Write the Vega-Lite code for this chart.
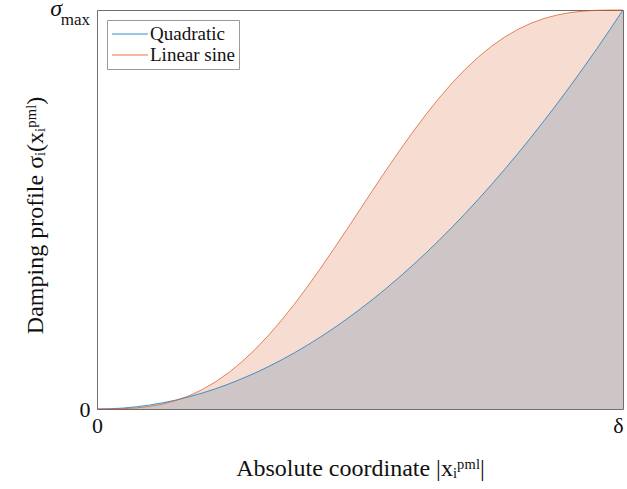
{
  "$schema": "https://vega.github.io/schema/vega-lite/v6.json",
  "width": 526,
  "height": 399,
  "autosize": {"type": "none"},
  "padding": {"left": 97, "top": 10, "right": 4, "bottom": 80},
  "config": {
    "font": "Liberation Serif",
    "view": {"stroke": "#6e6e6e", "strokeWidth": 1},
    "axis": {"grid": false, "ticks": false, "domain": false, "labelFont": "Liberation Serif", "titleFont": "Liberation Serif", "labelColor": "#111", "titleColor": "#111", "titleFontWeight": "normal"}
  },
  "datasets": {
    "curves": [
      {"x": 0, "Quadratic": 0, "Linear sine": 0},
      {"x": 0.025, "Quadratic": 0.000625, "Linear sine": 0.000102},
      {"x": 0.05, "Quadratic": 0.0025, "Linear sine": 0.000819},
      {"x": 0.075, "Quadratic": 0.005625, "Linear sine": 0.002745},
      {"x": 0.1, "Quadratic": 0.01, "Linear sine": 0.006451},
      {"x": 0.125, "Quadratic": 0.015625, "Linear sine": 0.01246},
      {"x": 0.15, "Quadratic": 0.0225, "Linear sine": 0.021241},
      {"x": 0.175, "Quadratic": 0.030625, "Linear sine": 0.033192},
      {"x": 0.2, "Quadratic": 0.04, "Linear sine": 0.048635},
      {"x": 0.225, "Quadratic": 0.050625, "Linear sine": 0.067804},
      {"x": 0.25, "Quadratic": 0.0625, "Linear sine": 0.090845},
      {"x": 0.275, "Quadratic": 0.075625, "Linear sine": 0.117804},
      {"x": 0.3, "Quadratic": 0.09, "Linear sine": 0.148635},
      {"x": 0.325, "Quadratic": 0.105625, "Linear sine": 0.183192},
      {"x": 0.35, "Quadratic": 0.1225, "Linear sine": 0.221241},
      {"x": 0.375, "Quadratic": 0.140625, "Linear sine": 0.26246},
      {"x": 0.4, "Quadratic": 0.16, "Linear sine": 0.306451},
      {"x": 0.425, "Quadratic": 0.180625, "Linear sine": 0.352745},
      {"x": 0.45, "Quadratic": 0.2025, "Linear sine": 0.400819},
      {"x": 0.475, "Quadratic": 0.225625, "Linear sine": 0.450102},
      {"x": 0.5, "Quadratic": 0.25, "Linear sine": 0.5},
      {"x": 0.525, "Quadratic": 0.275625, "Linear sine": 0.549898},
      {"x": 0.55, "Quadratic": 0.3025, "Linear sine": 0.599181},
      {"x": 0.575, "Quadratic": 0.330625, "Linear sine": 0.647255},
      {"x": 0.6, "Quadratic": 0.36, "Linear sine": 0.693549},
      {"x": 0.625, "Quadratic": 0.390625, "Linear sine": 0.73754},
      {"x": 0.65, "Quadratic": 0.4225, "Linear sine": 0.778759},
      {"x": 0.675, "Quadratic": 0.455625, "Linear sine": 0.816808},
      {"x": 0.7, "Quadratic": 0.49, "Linear sine": 0.851365},
      {"x": 0.725, "Quadratic": 0.525625, "Linear sine": 0.882196},
      {"x": 0.75, "Quadratic": 0.5625, "Linear sine": 0.909155},
      {"x": 0.775, "Quadratic": 0.600625, "Linear sine": 0.932196},
      {"x": 0.8, "Quadratic": 0.64, "Linear sine": 0.951365},
      {"x": 0.825, "Quadratic": 0.680625, "Linear sine": 0.966808},
      {"x": 0.85, "Quadratic": 0.7225, "Linear sine": 0.978759},
      {"x": 0.875, "Quadratic": 0.765625, "Linear sine": 0.98754},
      {"x": 0.9, "Quadratic": 0.81, "Linear sine": 0.993549},
      {"x": 0.925, "Quadratic": 0.855625, "Linear sine": 0.997255},
      {"x": 0.95, "Quadratic": 0.9025, "Linear sine": 0.999181},
      {"x": 0.975, "Quadratic": 0.950625, "Linear sine": 0.999898},
      {"x": 1, "Quadratic": 1, "Linear sine": 1}
    ],
    "sigma": [{"x": 0, "y": 1, "sym": "σ", "sub": "max"}]
  },
  "layer": [
    {
      "data": {"name": "curves"},
      "transform": [{"fold": ["Quadratic", "Linear sine"], "as": ["profile", "value"]}, {"filter": "datum.profile == 'Quadratic'"}],
      "mark": {"type": "area", "fillOpacity": 0.2},
      "encoding": {
        "x": {"field": "x", "type": "quantitative"},
        "y": {"field": "value", "type": "quantitative"},
        "color": {"field": "profile", "type": "nominal"}
      }
    },
    {
      "data": {"name": "curves"},
      "transform": [{"fold": ["Quadratic", "Linear sine"], "as": ["profile", "value"]}, {"filter": "datum.profile == 'Linear sine'"}],
      "mark": {"type": "area", "fillOpacity": 0.2},
      "encoding": {
        "x": {"field": "x", "type": "quantitative"},
        "y": {"field": "value", "type": "quantitative"},
        "color": {"field": "profile", "type": "nominal"}
      }
    },
    {
      "data": {"name": "curves"},
      "transform": [{"fold": ["Quadratic", "Linear sine"], "as": ["profile", "value"]}],
      "mark": {"type": "line", "strokeWidth": 1, "strokeOpacity": 0.7},
      "encoding": {
        "x": {"field": "x", "type": "quantitative", "scale": {"domain": [0, 1], "nice": false},
          "axis": {"values": [0, 1], "labelExpr": "datum.value == 0 ? '0' : 'δ'", "labelFontSize": 22, "labelPadding": 6, "labelFlush": false,
            "labelAlign": {"condition": {"test": "datum.value == 1", "value": "right"}, "value": "center"},
            "title": "Absolute coordinate |xᵢᵖᵐˡ|", "titleFontSize": 24, "titleY": 66, "titleBaseline": "alphabetic"}},
        "y": {"field": "value", "type": "quantitative", "scale": {"domain": [0, 1], "nice": false},
          "axis": {"values": [0, 1], "labelExpr": "datum.value == 0 ? '0' : ''", "labelFontSize": 22, "labelPadding": 7, "labelFlush": false,
            "title": "Damping profile σᵢ(xᵢᵖᵐˡ)", "titleFontSize": 24, "titleX": -55, "titleY": 205, "titleAlign": "center", "titleBaseline": "alphabetic", "titleAngle": -90}},
        "color": {"field": "profile", "type": "nominal", "scale": {"domain": ["Quadratic", "Linear sine"], "range": ["#0072BD", "#D95319"]},
          "legend": {"orient": "top-left", "offset": 10, "title": null, "symbolType": "M-1,0H3", "symbolSize": 324, "symbolStrokeWidth": 1.2,
            "labelFontSize": 19, "labelFont": "Liberation Serif", "labelColor": "#111", "strokeColor": "#9a9a9a", "fillColor": "white", "padding": 4, "rowPadding": 1, "labelOffset": 19, "cornerRadius": 0,
            "encode": {"symbols": {"enter": {"stroke": {"scale": "color", "field": "value"}, "fill": {"value": "transparent"}, "strokeOpacity": {"value": 0.8}, "opacity": {"value": 1}},
                                   "update": {"stroke": {"scale": "color", "field": "value"}, "fill": {"value": "transparent"}, "strokeOpacity": {"value": 0.8}, "opacity": {"value": 1}}}}}}
      }
    },
    {
      "data": {"name": "sigma"},
      "mark": {"type": "text", "align": "right", "baseline": "alphabetic", "dx": -35, "dy": 6, "fontSize": 24, "fontStyle": "italic", "color": "#111"},
      "encoding": {
        "x": {"field": "x", "type": "quantitative"},
        "y": {"field": "y", "type": "quantitative"},
        "text": {"field": "sym"}
      }
    },
    {
      "data": {"name": "sigma"},
      "mark": {"type": "text", "align": "right", "baseline": "alphabetic", "dx": -7, "dy": 15, "fontSize": 17, "color": "#111"},
      "encoding": {
        "x": {"field": "x", "type": "quantitative"},
        "y": {"field": "y", "type": "quantitative"},
        "text": {"field": "sub"}
      }
    }
  ]
}
